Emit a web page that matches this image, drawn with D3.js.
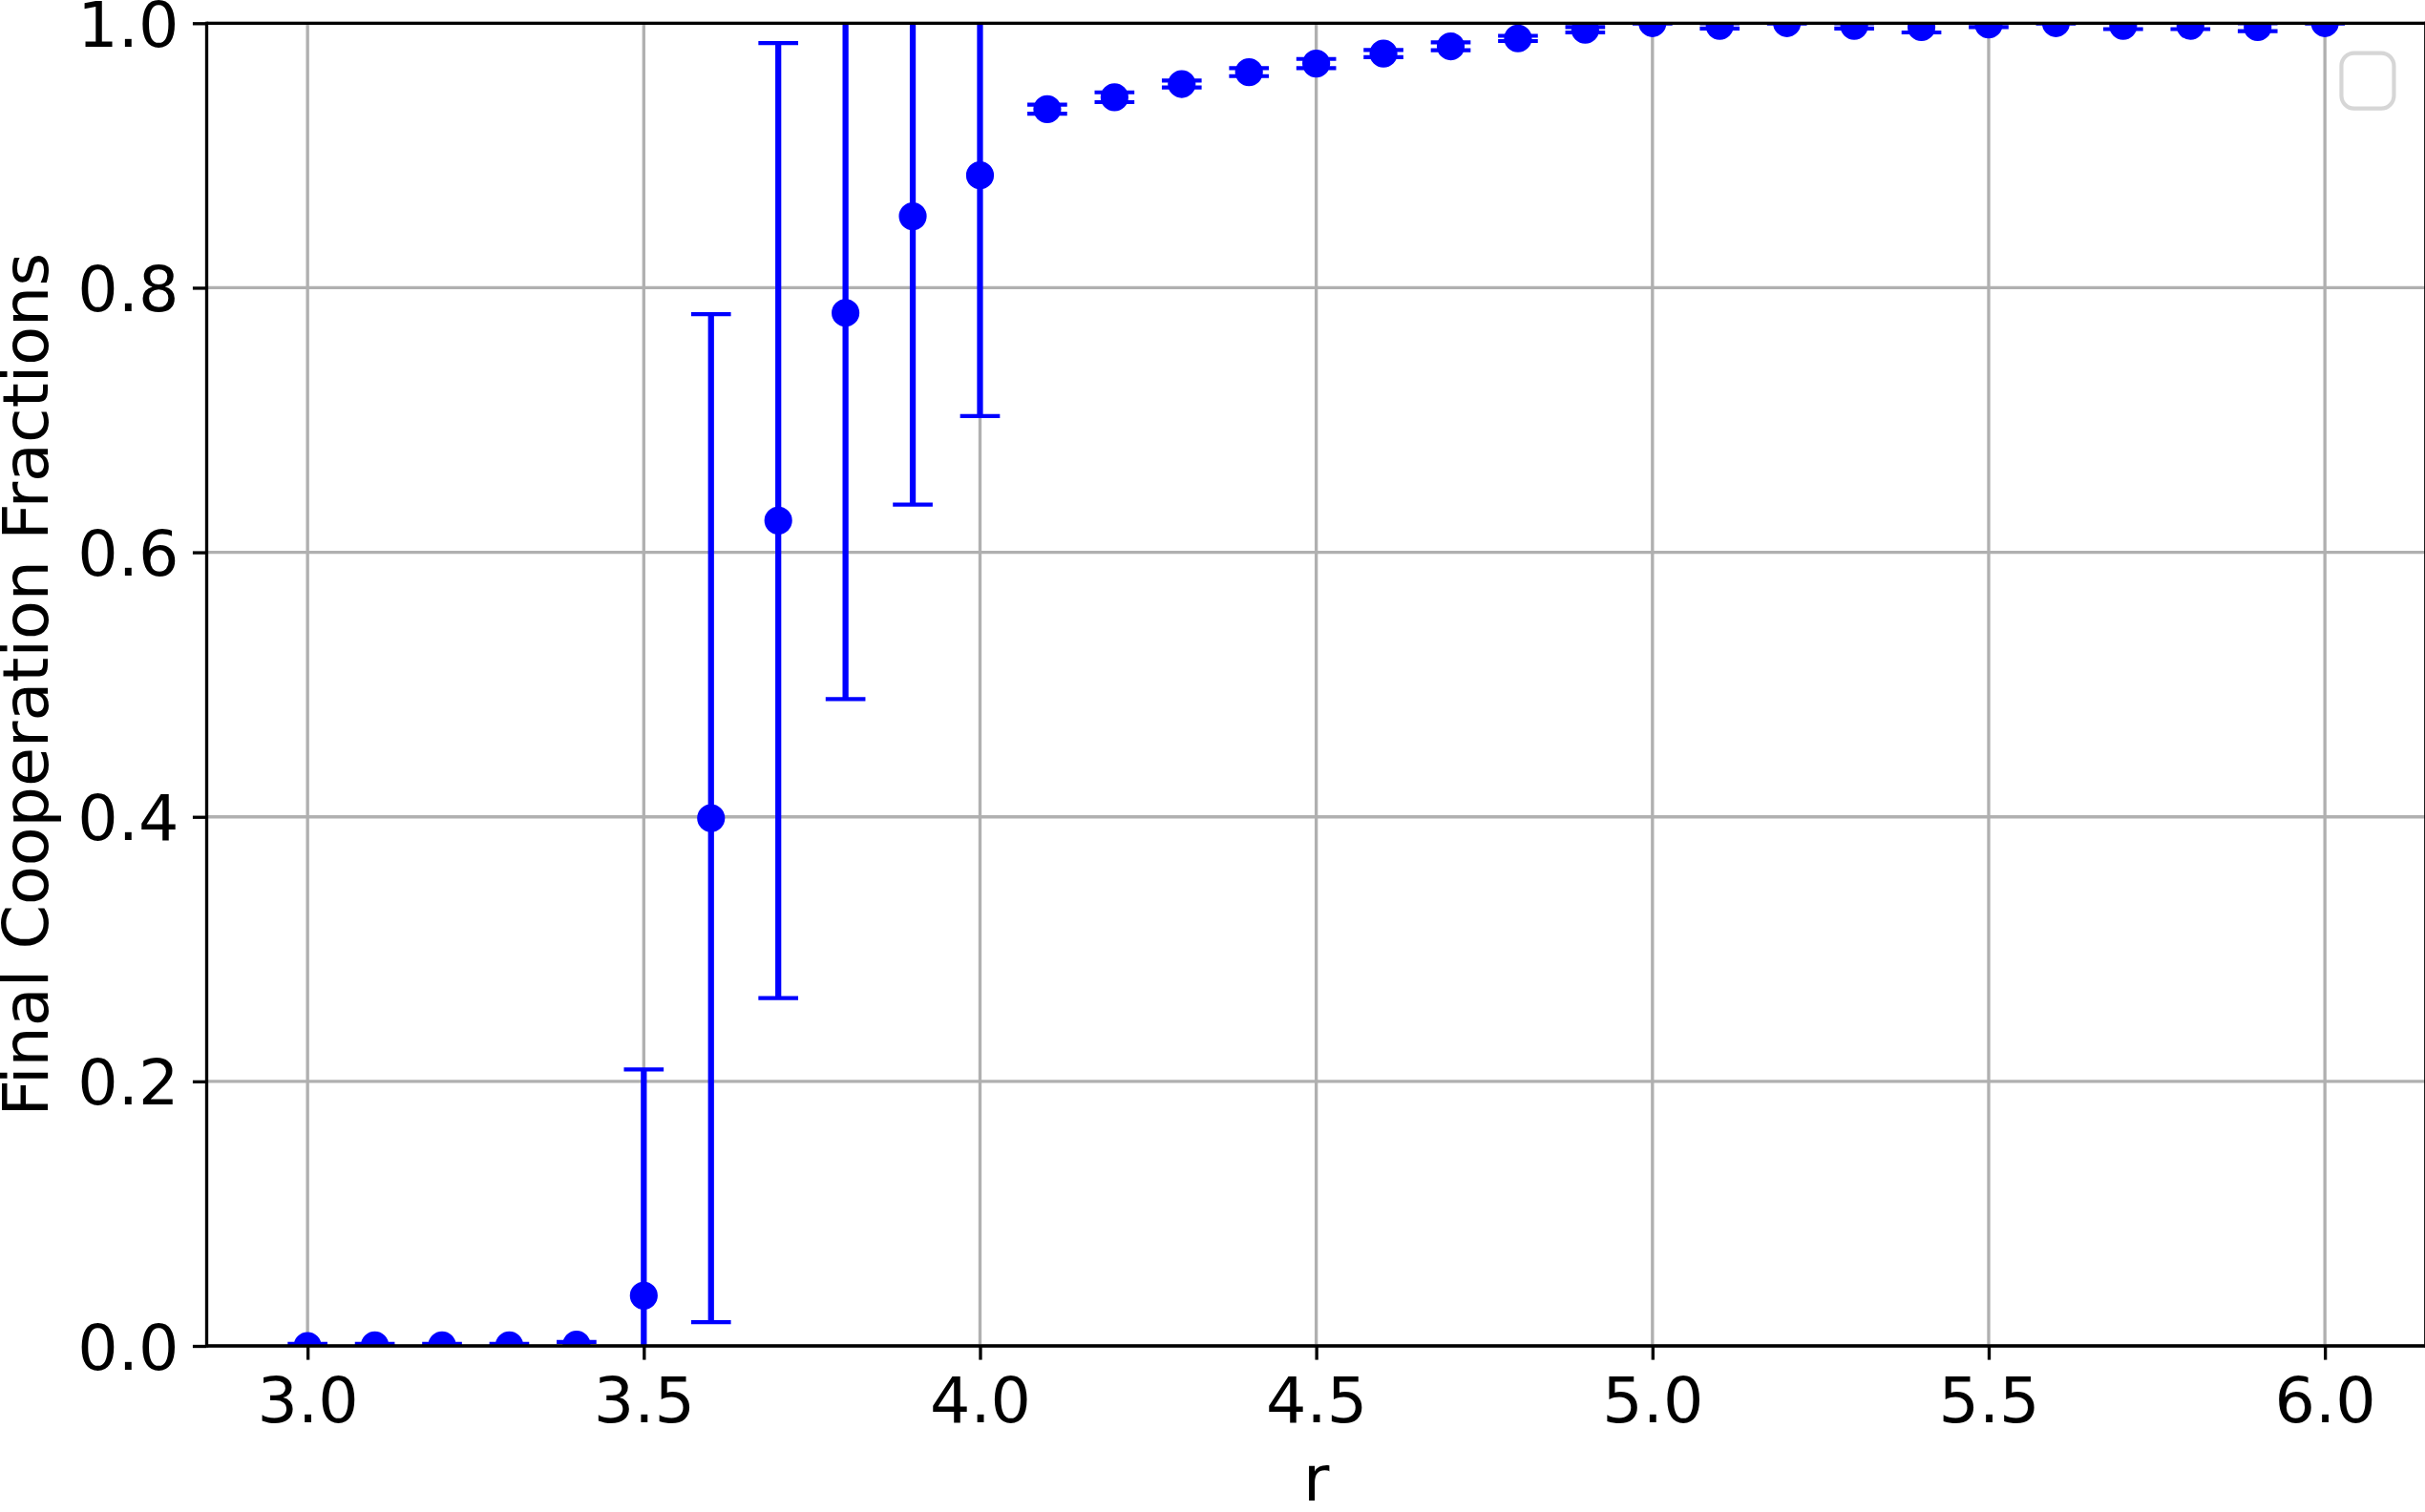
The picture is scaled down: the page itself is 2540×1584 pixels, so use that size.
<!DOCTYPE html>
<html>
<head>
<meta charset="utf-8">
<title>Final Cooperation Fractions</title>
<script src="https://d3js.org/d3.v7.min.js"></script>
<style>
  body { margin: 0; background: #fff; }
  svg { display: block; }
  text { font-family: "DejaVu Sans", sans-serif; }
</style>
</head>
<body>
<div id="container"></div>
<script>

// data
var rValues = [3.0, 3.1, 3.2, 3.3, 3.4, 3.5, 3.6, 3.7, 3.8, 3.9, 4.0,
               4.1, 4.2, 4.3, 4.4, 4.5, 4.6, 4.7, 4.8, 4.9, 5.0,
               5.1, 5.2, 5.3, 5.4, 5.5, 5.6, 5.7, 5.8, 5.9, 6.0];
var meanValues = [0.0, 0.0005, 0.0005, 0.0005, 0.001, 0.038, 0.399, 0.624, 0.781, 0.854, 0.885,
                  0.935, 0.944, 0.954, 0.963, 0.9695, 0.977, 0.9825, 0.9885, 0.995, 1.0,
                  0.998, 1.0, 0.998, 0.997, 0.999, 1.0, 0.998, 0.998, 0.997, 1.0];
var errValues = [0.0015, 0.001, 0.001, 0.001, 0.002, 0.171, 0.381, 0.361, 0.292, 0.218, 0.182,
                 0.0034, 0.0037, 0.0026, 0.003, 0.0035, 0.0027, 0.003, 0.002, 0.002, 0.0,
                 0.002, 0.0, 0.002, 0.004, 0.002, 0.0, 0.0025, 0.0025, 0.003, 0.0];
var xTicks = [3.0, 3.5, 4.0, 4.5, 5.0, 5.5, 6.0];
var yTicks = [0.0, 0.2, 0.4, 0.6, 0.8, 1.0];

var width = 2540;
var height = 1584;
var fontSize = 66.7;     // 16pt at 300 dpi
var pt = 300 / 72;

// plot area (window.top is read-only, so keep these names distinct)
var plotL = 216.5, plotR = 2540.8, plotT = 24.3, plotB = 1410;

var svg = d3.select("#container").append("svg")
    .attr("width", width).attr("height", height);

var x = d3.scaleLinear().domain([2.85, 6.15]).range([plotL, plotR]);
var y = d3.scaleLinear().domain([0, 1]).range([plotB, plotT]);

svg.append("defs").append("clipPath").attr("id", "plotclip")
  .append("rect")
    .attr("x", plotL).attr("y", plotT)
    .attr("width", plotR - plotL).attr("height", plotB - plotT);

// grid
var grid = svg.append("g").attr("class", "grid");
grid.selectAll("line.gx").data(xTicks).enter().append("line")
    .attr("class", "gx")
    .attr("x1", d => x(d)).attr("x2", d => x(d))
    .attr("y1", plotT).attr("y2", plotB)
    .attr("stroke", "#b0b0b0").attr("stroke-width", 0.8 * pt);
grid.selectAll("line.gy").data(yTicks).enter().append("line")
    .attr("class", "gy")
    .attr("y1", d => y(d)).attr("y2", d => y(d))
    .attr("x1", plotL).attr("x2", plotR)
    .attr("stroke", "#b0b0b0").attr("stroke-width", 0.8 * pt);

var points = rValues.map(function(r, i) {
  return { r: r, m: meanValues[i], e: errValues[i] };
});

var plot = svg.append("g").attr("clip-path", "url(#plotclip)");
var blue = "#0000ff";
var capHalf = 5 * pt;

// error bars
plot.selectAll("line.bar").data(points).enter().append("line")
    .attr("class", "bar")
    .attr("x1", d => x(d.r)).attr("x2", d => x(d.r))
    .attr("y1", d => y(d.m - d.e)).attr("y2", d => y(d.m + d.e))
    .attr("stroke", blue).attr("stroke-width", 1.5 * pt);

var caps = [];
points.forEach(function(d) {
  caps.push({ r: d.r, v: d.m - d.e });
  caps.push({ r: d.r, v: d.m + d.e });
});
plot.selectAll("line.cap").data(caps).enter().append("line")
    .attr("class", "cap")
    .attr("x1", d => x(d.r) - capHalf).attr("x2", d => x(d.r) + capHalf)
    .attr("y1", d => y(d.v)).attr("y2", d => y(d.v))
    .attr("stroke", blue).attr("stroke-width", 1 * pt);

// markers
plot.selectAll("circle").data(points).enter().append("circle")
    .attr("cx", d => x(d.r)).attr("cy", d => y(d.m))
    .attr("r", 3 * pt)
    .attr("fill", blue).attr("stroke", blue).attr("stroke-width", 1 * pt);

// axes
var xAxis = svg.append("g").attr("transform", "translate(0," + plotB + ")")
    .call(d3.axisBottom(x).tickValues(xTicks).tickFormat(d3.format(".1f"))
          .tickSize(3.5 * pt).tickPadding(3.5 * pt));
var yAxis = svg.append("g").attr("transform", "translate(" + plotL + ",0)")
    .call(d3.axisLeft(y).tickValues(yTicks).tickFormat(d3.format(".1f"))
          .tickSize(3.5 * pt).tickPadding(3.5 * pt));

[xAxis, yAxis].forEach(function(a) {
  a.select(".domain").remove();
  a.selectAll(".tick line").attr("stroke", "#000").attr("stroke-width", 0.8 * pt);
  a.selectAll(".tick text").attr("fill", "#000")
      .style("font-size", fontSize + "px");
});
xAxis.selectAll(".tick text").attr("dy", null).attr("y", 3.5 * pt * 2 + fontSize * 0.76);
yAxis.selectAll(".tick text").attr("dy", "0.36em");

// spines
var spines = svg.append("g").attr("fill", "none")
    .attr("stroke", "#000").attr("stroke-width", 0.8 * pt);
spines.append("line").attr("x1", plotL).attr("x2", plotL).attr("y1", plotT - 1.6).attr("y2", plotB + 1.6);
spines.append("line").attr("x1", plotR).attr("x2", plotR).attr("y1", plotT - 1.6).attr("y2", plotB + 1.6);
spines.append("line").attr("x1", plotL).attr("x2", plotR).attr("y1", plotT).attr("y2", plotT);
spines.append("line").attr("x1", plotL).attr("x2", plotR).attr("y1", plotB).attr("y2", plotB);

// axis labels
svg.append("text")
    .attr("x", (plotL + plotR) / 2).attr("y", 1572)
    .attr("text-anchor", "middle")
    .style("font-size", fontSize + "px")
    .text("r");

svg.append("text")
    .attr("transform", "translate(50," + ((plotT + plotB) / 2) + ") rotate(-90)")
    .attr("text-anchor", "middle")
    .style("font-size", fontSize + "px")
    .text("Final Cooperation Fractions");

// empty legend frame
var pad = 0.5 * fontSize;
svg.append("rect")
    .attr("x", plotR - pad - 55).attr("y", plotT + pad - 2)
    .attr("width", 55).attr("height", 58)
    .attr("rx", 0.2 * fontSize).attr("ry", 0.2 * fontSize)
    .attr("fill", "#fff").attr("fill-opacity", 0.8)
    .attr("stroke", "#cccccc").attr("stroke-opacity", 0.8)
    .attr("stroke-width", 1 * pt);

</script>
</body>
</html>
